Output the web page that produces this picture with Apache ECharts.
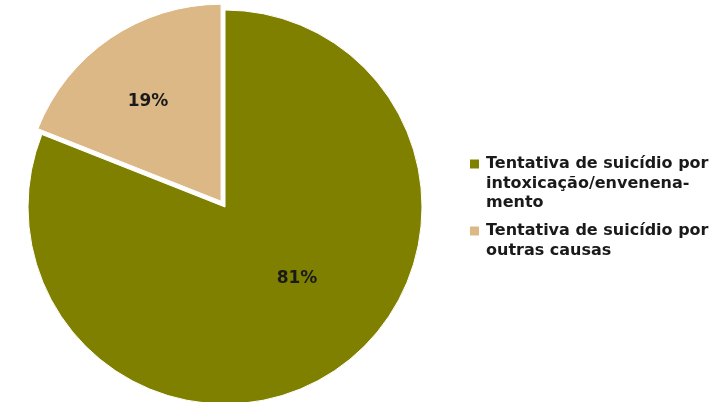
<!DOCTYPE html>
<html>
<head>
<meta charset="utf-8">
<script src="https://cdn.jsdelivr.net/npm/echarts@6/dist/echarts.min.js"></script>
<style>html,body{margin:0;padding:0;background:#fff;}#c{width:728px;height:402px;}</style>
</head>
<body>
<div id="c"></div>
<script>
const categories = [
  'Tentativa de suicídio por intoxicação/envenenamento',
  'Tentativa de suicídio por outras causas'
];
const values = [81, 19];
const legendLines = [
  ['Tentativa de suicídio por', 'intoxicação/envenena-', 'mento'],
  ['Tentativa de suicídio por', 'outras causas']
];
const colors = ['#808000', '#DDB887'];
const labelOffsets = [[15, -12], [-16, -16]];

const chart = echarts.init(document.getElementById('c'), null, {renderer: 'canvas'});
const rich = {
  b: {width: 9, height: 9},
  t: {fontFamily: 'DejaVu Sans', fontWeight: 'bold', fontSize: 16, color: '#1a1a1a', lineHeight: 19.5, padding: [0, 0, 0, 7]}
};
colors.forEach((c, i) => { rich['m' + i] = {width: 9, height: 9, backgroundColor: c}; });

chart.setOption({
  animation: false,
  legend: {
    orient: 'vertical',
    left: 465,
    top: 156,
    padding: 0,
    itemGap: 12,
    itemWidth: 0,
    itemHeight: 10,
    icon: 'none',
    selectedMode: false,
    data: categories,
    formatter: function (name) {
      const idx = categories.indexOf(name);
      return legendLines[idx].map((l, i) => (i === 0 ? '{m' + idx + '|}' : '{b|}') + '{t|' + l + '}').join('\n');
    },
    textStyle: {rich: rich}
  },
  series: [{
    type: 'pie',
    center: [225, 207],
    radius: 197,
    startAngle: 90,
    clockwise: true,
    selectedMode: 'single',
    selectedOffset: 7,
    avoidLabelOverlap: false,
    itemStyle: {borderColor: '#fff', borderWidth: 1},
    label: {
      show: true,
      position: 'inside',
      formatter: '{d}%',
      fontFamily: 'DejaVu Sans',
      fontWeight: 'bold',
      fontSize: 17,
      color: '#1a1a1a'
    },
    labelLine: {show: false},
    emphasis: {disabled: true},
    data: categories.map((n, i) => ({
      name: n,
      value: values[i],
      selected: i === 1,
      itemStyle: {color: colors[i]},
      label: {offset: labelOffsets[i]},
      select: {label: {offset: labelOffsets[i]}}
    }))
  }]
});
</script>
</body>
</html>
